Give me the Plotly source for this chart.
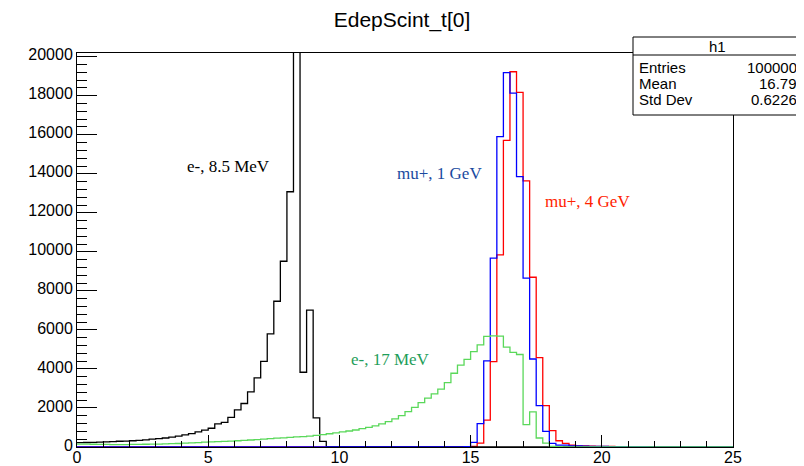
import numpy as np
import plotly.graph_objects as go

# ---------------- data ----------------
bin_width = 0.25
x_low = 0.0
x_high = 25.0

# e-, 8.5 MeV (black)
black_counts = [220, 230, 240, 250, 265, 280, 295, 305, 320, 340,
                370, 400, 430, 460, 510, 560, 620, 690, 780, 860,
                960, 1180, 1260, 1520, 1900, 2230, 2830, 3540, 4390, 5800,
                7470, 9520, 13080, 30000, 3830, 7010, 1490, 290, 0, 0] + [0] * 60

# e-, 17 MeV (green)
green_counts = [150, 145, 140, 135, 130, 125, 125, 125, 130, 135,
                140, 145, 150, 160, 170, 180, 195, 210, 225, 245,
                260, 275, 290, 305, 320, 340, 360, 380, 400, 425,
                450, 470, 495, 515, 530, 560, 600, 630, 680, 720,
                770, 820, 870, 940, 1010, 1080, 1190, 1300, 1440, 1610,
                1810, 2030, 2270, 2500, 2720, 2970, 3300, 3780, 4200, 4490,
                4890, 5230, 5670, 5690, 5680, 5120, 4850, 4740, 1150, 1800,
                460, 200, 30, 15, 10, 5, 0, 0, 0, 0] + [0] * 20

# mu+, 1 GeV (blue)
blue_counts = [0] * 59 + [20,
               240, 1200, 4410, 9680, 15910, 19190, 18140, 13860, 8650, 4510,
               2120, 800, 190, 100, 100, 50, 50, 40, 30, 30,
               25, 20, 20, 20, 15, 15, 15, 10, 10, 10,
               10, 10, 5, 5, 5, 5, 5, 5, 5, 5]

# mu+, 4 GeV (red, h1)
red_counts = [0] * 60 + [
               30, 200, 1380, 4380, 9850, 15710, 19230, 18170, 13640, 8700,
               4580, 2120, 840, 320, 190, 100, 60, 50, 40, 30,
               25, 25, 20, 20, 20, 15, 15, 15, 10, 10,
               10, 10, 10, 5, 5, 5, 5, 5, 5, 5]

stats_labels = ["Entries", "Mean", "Std Dev"]
stats_values = ["100000", "16.79", "0.6226"]

title_text = "EdepScint_t[0]"

# ---------------- helpers ----------------
def step_xy(counts):
    n = len(counts)
    edges = x_low + bin_width * np.arange(n + 1)
    ys = list(counts) + [counts[-1]]
    return edges, ys

SANS = "Liberation Sans, Arial, Helvetica, sans-serif"
SERIF = "Liberation Serif, Times New Roman, Times, serif"

# page offset: the html body has an 8px margin
OFF = 8
FIG_W, FIG_H = 804 - OFF, 466 - OFF
L, T = 77 - OFF, 53 - OFF
PW, PH = 656, 394

fig = go.Figure()

series = [
    (red_counts, "#ff0000", "mu+, 4 GeV"),
    (black_counts, "#000000", "e-, 8.5 MeV"),
    (blue_counts, "#0000ff", "mu+, 1 GeV"),
    (green_counts, "#5ad85a", "e-, 17 MeV"),
]
for counts, color, name in series:
    xs, ys = step_xy(counts)
    fig.add_trace(go.Scatter(x=xs, y=ys, mode="lines", line=dict(color=color, width=1.3, shape="hv"),
                             name=name, showlegend=False, hoverinfo="skip"))

y_max = max(red_counts) * 1.05

fig.update_layout(
    template="none",
    width=FIG_W, height=FIG_H,
    margin=dict(l=L, r=FIG_W - L - PW, t=T, b=FIG_H - T - PH, pad=0, autoexpand=False),
    paper_bgcolor="white", plot_bgcolor="white",
    title=dict(text=title_text, x=(402 - OFF) / FIG_W, xref="container", xanchor="center",
               y=1 - (20 - OFF) / FIG_H, yref="container", yanchor="middle",
               font=dict(family=SANS, size=21, color="black")),
    showlegend=False,
)

fig.update_xaxes(range=[x_low, x_high], showgrid=False, zeroline=False, automargin=False,
                 showline=True, mirror=True, linecolor="black", linewidth=1,
                 ticks="inside", ticklen=12, tickcolor="black", tickwidth=1,
                 tick0=0, dtick=5, tickformat="d", ticklabelstandoff=-4,
                 minor=dict(dtick=1, ticks="inside", ticklen=6, tickcolor="black", tickwidth=1, showgrid=False),
                 tickfont=dict(family=SANS, size=16, color="black"))
fig.update_yaxes(range=[0, y_max], showgrid=False, zeroline=False, automargin=False,
                 showline=True, mirror=True, linecolor="black", linewidth=1,
                 ticks="inside", ticklen=20, tickcolor="black", tickwidth=1,
                 tick0=0, dtick=2000, tickformat="d", ticklabelshift=-2,
                 minor=dict(dtick=400, ticks="inside", ticklen=10, tickcolor="black", tickwidth=1, showgrid=False),
                 tickfont=dict(family=SANS, size=16, color="black"))

# ------------- text labels -------------
labels = [
    ("e-, 8.5 MeV", 5.77, 14370, "#000000"),
    ("mu+, 1 GeV", 13.83, 14030, "#1a4aa0"),
    ("mu+, 4 GeV", 19.44, 12570, "#ff2200"),
    ("e-, 17 MeV", 11.93, 4460, "#1f9e5a"),
]
for text, x, y, color in labels:
    fig.add_annotation(x=x, y=y, text=text, showarrow=False, xanchor="center", yanchor="middle",
                       font=dict(family=SERIF, size=17, color=color))

# ------------- stats box (positions in page pixels) -------------
def px2x(px):
    return (px - 77) / PW

def py2y(py):
    return (447 - py) / PH

bx0, bx1 = px2x(633), px2x(801)
by_top, by_div, by_bot = py2y(37), py2y(55), py2y(115)
fig.add_shape(type="rect", xref="paper", yref="paper", x0=bx0, x1=bx1, y0=by_bot, y1=by_top,
              line=dict(color="black", width=1), fillcolor="white", layer="above")
fig.add_shape(type="line", xref="paper", yref="paper", x0=bx0, x1=bx1, y0=by_div, y1=by_div,
              line=dict(color="black", width=1), layer="above")
fig.add_annotation(xref="paper", yref="paper", x=(bx0 + bx1) / 2, y=py2y(46), text="h1",
                   showarrow=False, xanchor="center", yanchor="middle", borderpad=0,
                   font=dict(family=SANS, size=15, color="black"))
row_py = [67, 83, 99]
for lab, val, py in zip(stats_labels, stats_values, row_py):
    fig.add_annotation(xref="paper", yref="paper", x=px2x(638), y=py2y(py), text=lab,
                       showarrow=False, xanchor="left", yanchor="middle", borderpad=0,
                       font=dict(family=SANS, size=15, color="black"))
    fig.add_annotation(xref="paper", yref="paper", x=px2x(798), y=py2y(py), text=val,
                       showarrow=False, xanchor="right", yanchor="middle", borderpad=0,
                       font=dict(family=SANS, size=15, color="black"))

fig.write_html("out.html")
